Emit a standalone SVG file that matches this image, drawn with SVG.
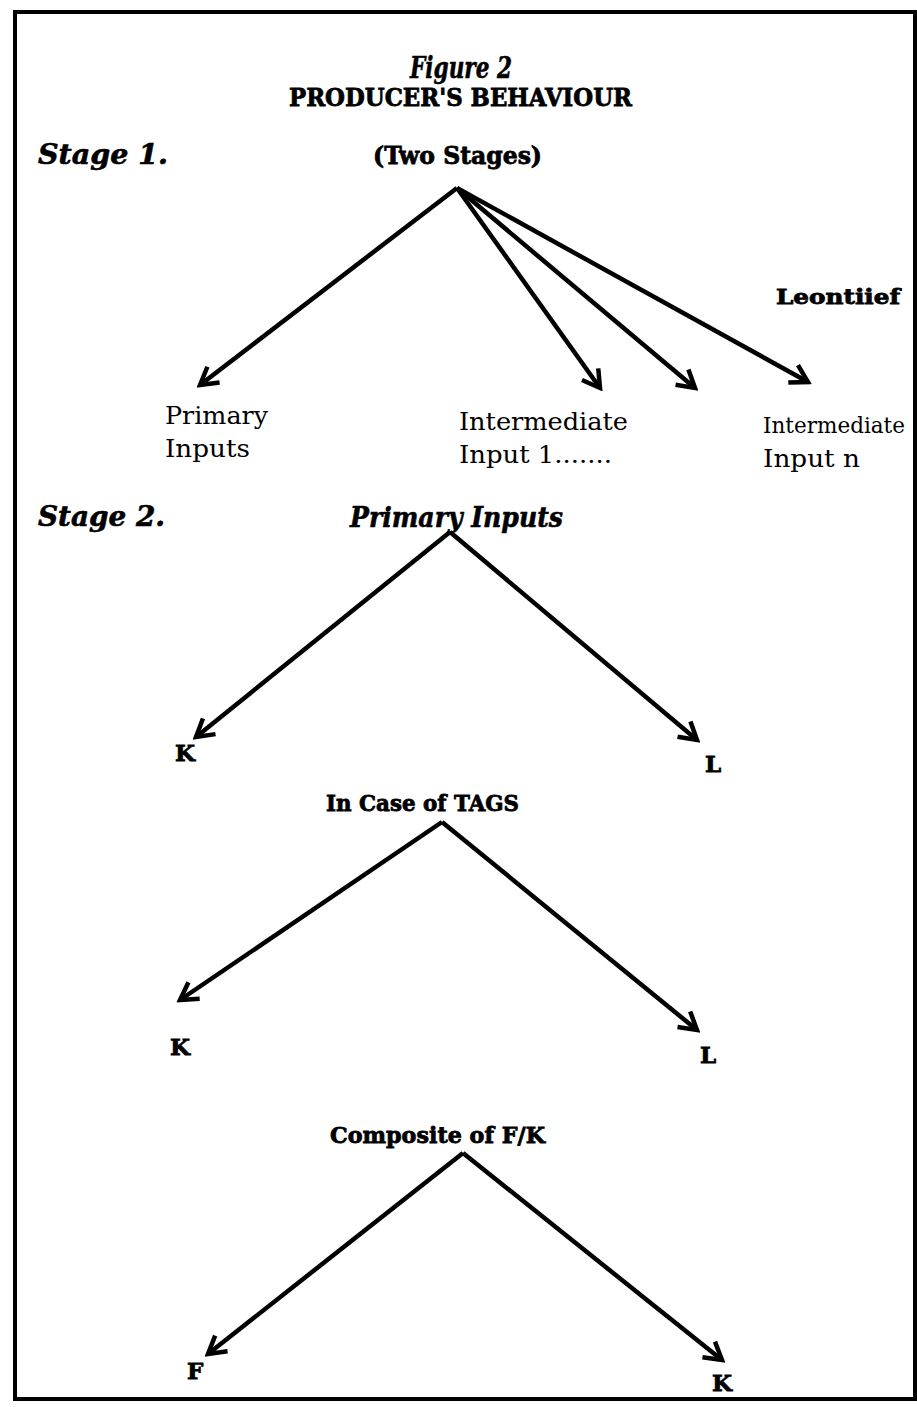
<svg xmlns="http://www.w3.org/2000/svg" width="917" height="1407" viewBox="0 0 917 1407">
<style>
.b{font-family:"DejaVu Serif","Liberation Serif",serif;font-weight:bold;fill:#000;stroke:#000;stroke-width:0.8}
.bi{font-family:"DejaVu Serif","Liberation Serif",serif;font-weight:bold;font-style:italic;fill:#000;stroke:#000;stroke-width:0.6}
.r{font-family:"DejaVu Serif","Liberation Serif",serif;fill:#000;font-size:25px}
.rs{font-size:22px}
.c{stroke:#000;stroke-width:4.5;fill:none;marker-end:url(#ah)}
</style>
<defs>
<marker id="ah" viewBox="0 0 26 26" refX="22" refY="13" markerWidth="26" markerHeight="26" markerUnits="userSpaceOnUse" orient="auto">
<path d="M5,3 L22,13 L5,23" fill="none" stroke="#000" stroke-width="4.5" stroke-linejoin="miter"/>
</marker>
</defs>
<rect x="0" y="0" width="917" height="1407" fill="#fff"/>
<rect x="15" y="12" width="900" height="1387" fill="none" stroke="#000" stroke-width="4"/>
<g id="title">
<text class="bi" x="410" y="78" font-size="30" textLength="102" lengthAdjust="spacingAndGlyphs">Figure 2</text>
<text class="b" x="289" y="106" font-size="25" textLength="343" lengthAdjust="spacingAndGlyphs">PRODUCER'S BEHAVIOUR</text>
</g>
<g id="stage1-label"><text class="bi" x="38" y="164" font-size="27" textLength="130" lengthAdjust="spacingAndGlyphs">Stage 1.</text></g>
<g id="two-stages"><text class="b" x="373" y="164" font-size="25" textLength="169" lengthAdjust="spacingAndGlyphs">(Two Stages)</text></g>
<g id="leontiief"><text class="b" x="776" y="304" font-size="21" textLength="124" lengthAdjust="spacingAndGlyphs">Leontiief</text></g>
<g id="primary-inputs-1">
<text class="r" x="165" y="424" textLength="103" lengthAdjust="spacingAndGlyphs">Primary</text>
<text class="r" x="165" y="457" textLength="85" lengthAdjust="spacingAndGlyphs">Inputs</text>
</g>
<g id="intermediate-1">
<text class="r" x="459" y="430" textLength="169" lengthAdjust="spacingAndGlyphs">Intermediate</text>
<text class="r" x="459" y="463" textLength="153" lengthAdjust="spacingAndGlyphs">Input 1.......</text>
</g>
<g id="intermediate-n">
<text class="r rs" x="763" y="433" textLength="142" lengthAdjust="spacingAndGlyphs">Intermediate</text>
<text class="r" x="763" y="467" textLength="97" lengthAdjust="spacingAndGlyphs">Input n</text>
</g>
<g id="stage2-label"><text class="bi" x="38" y="526" font-size="27" textLength="127" lengthAdjust="spacingAndGlyphs">Stage 2.</text></g>
<g id="primary-inputs-2"><text class="bi" x="350" y="527" font-size="28" textLength="213" lengthAdjust="spacingAndGlyphs">Primary Inputs</text></g>
<g id="k1"><text class="b" x="175" y="761" font-size="23">K</text></g>
<g id="l1"><text class="b" x="705" y="772" font-size="23">L</text></g>
<g id="tags"><text class="b" x="326" y="811" font-size="23" textLength="193" lengthAdjust="spacingAndGlyphs">In Case of TAGS</text></g>
<g id="k2"><text class="b" x="170" y="1055" font-size="23">K</text></g>
<g id="l2"><text class="b" x="700" y="1063" font-size="23">L</text></g>
<g id="composite"><text class="b" x="330" y="1143" font-size="23" textLength="215" lengthAdjust="spacingAndGlyphs">Composite of F/K</text></g>
<g id="f3"><text class="b" x="187" y="1379" font-size="23">F</text></g>
<g id="k3"><text class="b" x="712" y="1391" font-size="23">K</text></g>
<g id="connectors">
<line class="c" x1="457" y1="188" x2="200" y2="385"/>
<line class="c" x1="457" y1="188" x2="600" y2="388"/>
<line class="c" x1="457" y1="188" x2="695" y2="388"/>
<line class="c" x1="457" y1="188" x2="808" y2="382"/>
<line class="c" x1="450" y1="532" x2="196" y2="737"/>
<line class="c" x1="450" y1="532" x2="697" y2="740"/>
<line class="c" x1="442" y1="822" x2="180" y2="1000"/>
<line class="c" x1="442" y1="822" x2="697" y2="1030"/>
<line class="c" x1="463" y1="1153" x2="208" y2="1354"/>
<line class="c" x1="463" y1="1153" x2="722" y2="1360"/>
</g>
</svg>
